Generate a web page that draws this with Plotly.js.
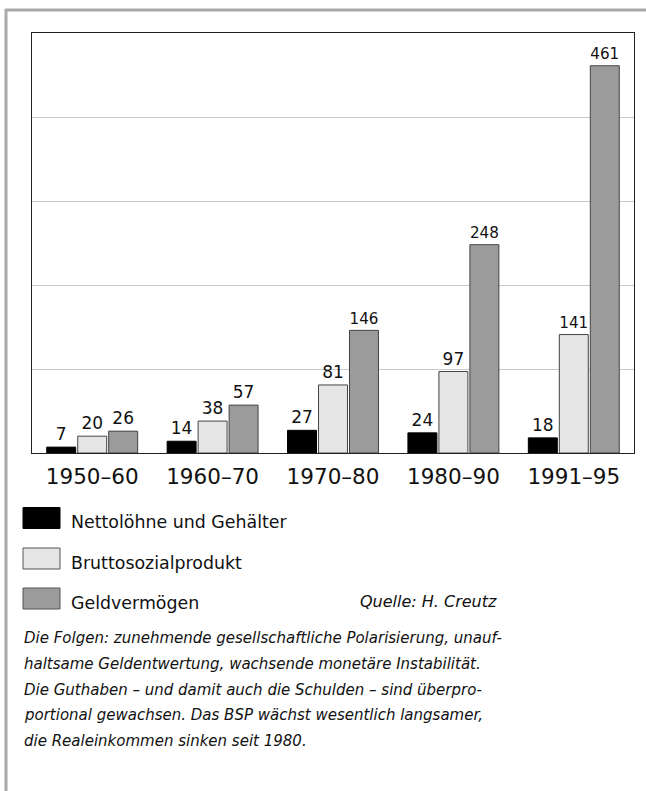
<!DOCTYPE html>
<html>
<head>
<meta charset="utf-8">
<script src="https://cdn.plot.ly/plotly-3.0.1.min.js"></script>
<style>
html,body{margin:0;padding:0;background:#fff;}
#chart{width:646px;height:791px;}
</style>
</head>
<body>
<div id="chart"></div>
<script>
const categories = ["1950–60", "1960–70", "1970–80", "1980–90", "1991–95"];
const seriesNames = ["Nettolöhne und Gehälter", "Bruttosozialprodukt", "Geldvermögen"];
const nettoloehne = [7, 14, 27, 24, 18];
const bsp = [20, 38, 81, 97, 141];
const geldvermoegen = [26, 57, 146, 248, 461];
const seriesColors = ["#000000", "#e6e6e6", "#9b9b9b"];
const sourceText = "Quelle: H. Creutz";
const captionLines = [
  "Die Folgen: zunehmende gesellschaftliche Polarisierung, unauf-",
  "haltsame Geldentwertung, wachsende monetäre Instabilität.",
  "Die Guthaben – und damit auch die Schulden – sind überpro-",
  "portional gewachsen. Das BSP wächst wesentlich langsamer,",
  "die Realeinkommen sinken seit 1980."
];

const FONT = "DejaVu Sans, Verdana, sans-serif";
const W = 646, H = 791;
const M = {l: 32, r: 12, t: 33, b: 338};
const PW = W - M.l - M.r, PH = H - M.t - M.b;
const px = x => (x - M.l) / PW;
const py = y => (H - M.b - y) / PH;

const allSeries = [nettoloehne, bsp, geldvermoegen];
const traces = allSeries.map((vals, i) => ({
  type: "bar",
  name: seriesNames[i],
  x: categories,
  y: vals,
  text: vals.map(String),
  textposition: "outside",
  cliponaxis: false,
  textfont: {family: FONT, size: 17, color: "#111"},
  marker: {color: seriesColors[i], line: {color: i === 0 ? "#000" : "#444", width: 1}},
  hoverinfo: "skip",
  showlegend: false
}));

const shapes = [
  {type: "line", xref: "paper", yref: "paper", x0: px(5), x1: px(650), y0: py(10), y1: py(10), line: {color: "#a9a9a9", width: 3}},
  {type: "line", xref: "paper", yref: "paper", x0: px(6), x1: px(6), y0: py(9), y1: py(800), line: {color: "#a9a9a9", width: 3}}
];
const annotations = [];
const legendRows = [518, 558.5, 598.5];
seriesNames.forEach((name, i) => {
  const c = legendRows[i];
  shapes.push({type: "rect", xref: "paper", yref: "paper",
    x0: px(23), x1: px(60), y0: py(c - 10.5), y1: py(c + 10.5),
    fillcolor: seriesColors[i], line: {color: i === 0 ? "#000" : "#555", width: 1}});
  annotations.push({xref: "paper", yref: "paper", x: px(69), y: py(c + 4), xanchor: "left", yanchor: "middle",
    text: name, showarrow: false, font: {family: FONT, size: 17.4, color: "#111"}});
});
annotations.push({xref: "paper", yref: "paper", x: px(499), y: py(601), xanchor: "right", yanchor: "middle",
  text: "<i>" + sourceText + "</i>", showarrow: false, font: {family: FONT, size: 16, color: "#111"}});
const captionY = [638, 663.5, 689.5, 715, 740.5];
captionLines.forEach((line, i) => {
  annotations.push({xref: "paper", yref: "paper", x: px(22), y: py(captionY[i]), xanchor: "left", yanchor: "middle",
    text: "<i>" + line + "</i>", showarrow: false, font: {family: FONT, size: 15, color: "#111"}});
});

const layout = {
  width: W, height: H,
  margin: M,
  paper_bgcolor: "#fff", plot_bgcolor: "#fff",
  barmode: "group",
  bargap: 0.228,
  bargroupgap: 0.065,
  font: {family: FONT, color: "#111"},
  xaxis: {
    type: "category",
    showline: true, mirror: true, linecolor: "#222", linewidth: 1,
    ticks: "", showgrid: false,
    ticklabelstandoff: 4,
    tickfont: {family: FONT, size: 21.5, color: "#111"}
  },
  yaxis: {
    range: [0, 500],
    tickvals: [100, 200, 300, 400],
    showticklabels: false,
    showgrid: true, gridcolor: "#c8c8c8", gridwidth: 1,
    zeroline: false,
    showline: true, mirror: true, linecolor: "#222", linewidth: 1,
    ticks: ""
  },
  shapes: shapes,
  annotations: annotations
};

Plotly.newPlot("chart", traces, layout, {displayModeBar: false, staticPlot: true});
</script>
</body>
</html>
